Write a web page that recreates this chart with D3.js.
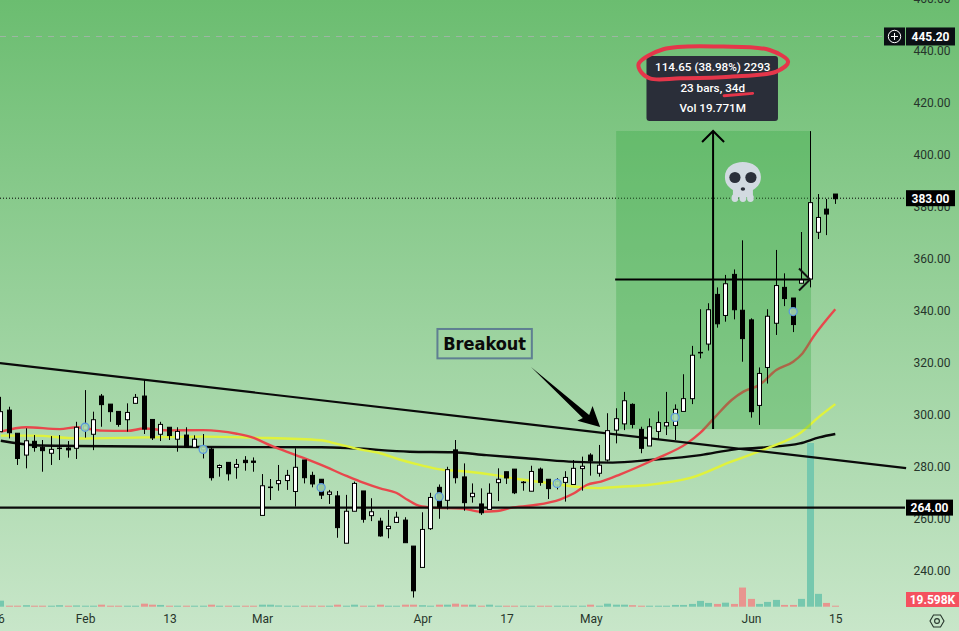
<!DOCTYPE html>
<html><head><meta charset="utf-8">
<script src="https://cdnjs.cloudflare.com/ajax/libs/d3/7.8.5/d3.min.js"></script>
<style>html,body{margin:0;padding:0;background:#99d29c;overflow:hidden}svg{display:block}</style>
</head><body><svg id="c" width="959" height="631"></svg>
<script>
const opens=[293.2,301.5,292.6,284.2,289.5,287.2,284.9,286.7,286.9,286.8,294.1,292.2,306.9,303.8,301,297.8,304.1,306.9,297.9,292.2,294.9,290.3,291.9,287.2,286.2,286.5,279.4,281.4,279.5,282.2,281.9,261,271.7,273.2,274.4,270.2,282.3,276.4,274.9,269.1,268.5,250.3,262.6,270.4,260.9,258.8,255.9,258.3,259.2,249.2,241,255.9,271.8,266.8,286.2,275.8,268.2,265.4,263.3,273.6,277.8,278.8,273.6,270.3,278.8,274.9,272.7,273.7,272.9,279,284.2,277.2,282.3,293.8,296.2,303.7,294.1,287.7,293.3,295.4,295.6,301,305.9,323.5,326.9,346,337.9,353.7,339.9,336.2,303.3,317.9,334.9,348.7,344.6,350.3,351.9,369.9,378.8,384.6];
const highs=[306.6,302.8,292.6,294.5,291.9,290,291.5,291.9,289.6,297,309.2,300.9,307.7,303.8,301,304.1,307.7,313.1,297.9,297,294.9,294.9,294.9,291.8,292.3,287.2,280.6,281.4,282.7,283.8,283.3,276.9,275,280.4,278.5,286.8,282.3,277.8,274.9,270.8,270.4,268.9,274,270.4,267.6,260.1,263.1,262.4,260.3,249.2,262.2,269.7,272.9,279.7,290,281,273.3,271.4,273.3,279.1,277.8,278.8,274.2,280.1,279.4,274.9,275.3,278,282.3,283.6,284.9,288.1,300.3,302.2,308.5,304.1,295.1,298.3,301,308.5,303.7,315.3,326.2,340.3,342.6,348.7,353.5,355.6,366.8,336.8,317.9,340.3,363.1,354.1,344.6,370,408.8,384.6,382.7,384.6];
const lows=[293.2,290.6,280.4,279.1,285.5,277.8,280.4,282.3,283.2,282.7,290.9,286.1,295.1,297,295.1,293.2,304.1,292.3,290,289.6,290,285.5,287.2,287.2,282.9,274.4,275.9,274.4,275.1,278.2,277.8,261,266.9,270.5,270.8,264.4,273.3,271.8,267.3,265.4,252.4,250.3,262.6,258.2,258.8,252.8,252.2,258.3,250.5,229.4,241,255.4,259.7,263.3,273.3,262.8,265.9,261.2,263.3,266.5,273.1,269.2,270.5,270.3,272.4,267.3,271,266.3,272.9,270.5,276.3,275.9,281.7,288.7,293.8,294.5,284.9,287.7,290.3,291.9,290,301,303.8,321.4,324.4,333.2,335.5,336.4,320.1,298.6,295.8,311.7,330.4,341.5,331.5,350.3,348.7,367.3,368.8,380.8];
const closes=[300.9,292.8,282.9,289.7,287.1,285.9,286.4,286.9,286.2,294.9,295.4,297.8,303.6,300.9,296,300.6,306.4,294.2,290.8,296,291.7,293.3,287.2,290.3,287.2,275.5,280.2,277,280.6,281.3,281.4,272.4,271.9,274.4,276.4,279.5,275.5,273.1,268.8,270,256.3,262.6,273.3,259.5,262.4,253.1,256.8,260.3,250.5,232,255.6,267.9,264.4,278.6,275.5,265.9,269.5,262,269.5,274.9,275.4,269.7,273.8,277.9,273.7,271.3,274,275.6,279.1,279.9,282,280.3,293.6,298.2,305.1,296,286.8,295.1,296.7,296.7,301.8,305.9,322.6,323.7,340.1,334.7,350.1,340.1,329,300.9,315.6,337.6,349.4,344.4,334.4,351.7,381.3,375.6,376.9,382.8];
const volumes=[.48,.08,.08,.12,.08,.08,.08,.12,.06,.1,.08,.08,.16,.06,.08,.06,.06,.24,.16,.14,.08,.08,.08,.08,.08,.16,.06,.06,.06,.06,.06,.16,.16,.1,.06,.06,.06,.08,.08,.08,.16,.08,.16,.08,.06,.16,.06,.06,.16,.16,.12,.08,.16,.16,.24,.16,.16,.08,.16,.08,.06,.06,.06,.06,.06,.06,.06,.06,.06,.06,.16,.08,.24,.16,.16,.12,.06,.06,.06,.06,.14,.14,.22,.46,.3,.22,.32,.22,1.52,.62,.22,.38,.54,.14,.14,.62,13,1.02,.3,.02];

const redIdx=[0,3,7,9,12,15,17,20,24,28,30,32,35,38,41,43,45,46.9,48.3,49.7,51.3,54.8,57,58.9,60.5,63.2,66.4,68,69.5,71.2,73.5,77.6,81.4,83,84.7,86.7,88.1,90,92,94,95.1,96.4,99];
const redVal=[293.2,294.9,294.2,294.9,293.6,293.5,294.4,293.7,293.8,292.4,290.8,287.9,284.2,280.4,276.2,273.6,271.4,269.7,266.9,264.6,264,263.6,262.4,262.7,263.9,264.9,267.2,269.5,272.7,274,276.8,282.6,288.7,292.8,298.7,305.4,308.6,311.2,316.9,320.1,323.3,329.7,340.3];
const yellowIdx=[0,4,9,17,24,30,38,39.9,42.6,45,47.2,49.2,51.9,55.5,58.6,61.5,65.4,68.2,71,73.5,77,81.8,86.5,90.9,94.8,97.1,99];
const yellowVal=[291.7,291.7,290.6,291,291.3,290.9,289.9,288.5,286.4,284.9,282.6,280.8,278.8,277.8,276.5,274.9,273.3,272,271.5,272,272.8,275.4,281.5,286.8,292.6,299,303.8];
const blackIdx=[0,4,9,24,38,41.8,48.5,53.6,57.6,62.3,67.4,72.6,77,83,87.1,90.9,94.8,97.1,99];
const blackVal=[289.7,288,287.7,287.3,287.2,286.8,285.5,285.3,284.2,283,281.7,281.3,282.3,284.2,286.4,287.2,288.7,291,292.3];

const markerIdx=[10,24,38,52,66,80,94];
const markerVal=[294.9,286.4,271.7,268.2,273.3,298.7,339.4];

const priceTicks=[460,440,420,400,380,360,340,320,300,280,260,240];
const timeIdx=[0,10,20,31,50,60,70,89,99];
const timeLabels=["6","Feb","13","Mar","Apr","17","May","Jun","15"];

const trendIdx=[-0.1,107.4], trendVal=[319.6,279.2];
const level=264, lastPrice=383, alertPrice=445.2, lastVolume="19.598K";
const rangeIdx=[73,96], rangeVal=[294.2,408.85];
const midIdx=84.5, midVal=351.7;
const statLines=["114.65 (38.98%) 2293","23 bars, 34d","Vol 19.771M"];
const breakoutText="Breakout";
const boxIdx=[51.8,63], boxVal=[332.7,321.4];
const fatArrowIdx=[62.9,69.8,70.2,71.1,68.4,69.05];
const fatArrowVal=[318.1,299.6,303.1,295,297.4,298.5];
const loopIdx=[75.7,78.6,85.7,91.2,93.4,92,86.5,80.6,77,75.8];
const loopVal=[434.9,440.3,441.3,440,435.5,431.7,429.7,429.1,429.1,432.3];
const underIdx=[85.8,89.2], underVal=[422.4,423.3];
const tipIdx=[76.6,92.2], tipVal=[437.7,412.7];

const W=959,H=631,plotR=905;
const x=d3.scaleLinear().domain([0,99]).range([0.8,835.3]);
const y=d3.scaleLinear().domain([400,240]).range([154,570]);
const v=d3.scaleLinear().domain([0,13]).range([606.7,443]);
const svg=d3.select("#c");
const font='Roboto, "Liberation Sans", sans-serif';
const UP="#76c8ae",DOWN="#e8958f";

const defs=svg.append("defs");
const g=defs.append("linearGradient").attr("id","bg").attr("x1",0).attr("x2",0).attr("y1",0).attr("y2",1);
g.append("stop").attr("offset","0").attr("stop-color","#6bbd70");
g.append("stop").attr("offset","1").attr("stop-color","#c8e6c9");
svg.append("rect").attr("width",W).attr("height",H).attr("fill","url(#bg)");

// reference price lines
svg.append("line").attr("x1",0).attr("x2",plotR).attr("y1",y(alertPrice)).attr("y2",y(alertPrice))
  .attr("stroke","#9fb5a4").attr("stroke-width",1).attr("stroke-dasharray","6 6");
svg.append("line").attr("x1",0).attr("x2",plotR).attr("y1",y(lastPrice)).attr("y2",y(lastPrice))
  .attr("stroke","#000").attr("stroke-width",1).attr("stroke-dasharray","1 2");

// volume
svg.append("g").selectAll("rect").data(volumes).join("rect")
  .attr("x",(d,i)=>Math.floor(x(i))-3).attr("width",7)
  .attr("y",d=>Math.min(v(d),v(0)-1)).attr("height",d=>Math.max(1,v(0)-v(d)))
  .attr("fill",(d,i)=>closes[i]>=opens[i]?UP:DOWN);

// moving averages
const maLine=d3.line().x(d=>x(d[0])).y(d=>y(d[1])).curve(d3.curveMonotoneX);
function ma(ix,vals,col){svg.append("path").attr("d",maLine(d3.zip(ix,vals))).attr("fill","none").attr("stroke",col).attr("stroke-width",2.4).attr("stroke-linejoin","round");}
ma(blackIdx,blackVal,"#0a0a0a");
ma(yellowIdx,yellowVal,"#dff23c");
ma(redIdx,redVal,"#e8474c");

// measured range box
svg.append("rect").attr("x",x(rangeIdx[0])).attr("width",x(rangeIdx[1])-x(rangeIdx[0])+1)
  .attr("y",y(rangeVal[1])).attr("height",y(rangeVal[0])-y(rangeVal[1]))
  .attr("fill","#35a63f").attr("fill-opacity",.33);

// trend and level lines
svg.append("line").attr("x1",x(trendIdx[0])).attr("x2",x(trendIdx[1])).attr("y1",y(trendVal[0])).attr("y2",y(trendVal[1]))
  .attr("stroke","#0a0a0a").attr("stroke-width",2.2);
svg.append("line").attr("x1",0).attr("x2",plotR).attr("y1",y(level)).attr("y2",y(level))
  .attr("stroke","#0a0a0a").attr("stroke-width",2.2);

// candles
const cg=svg.append("g").selectAll("g").data(opens).join("g");
const cx=i=>Math.floor(x(i))+.5;
cg.append("line").attr("x1",(d,i)=>cx(i)).attr("x2",(d,i)=>cx(i))
  .attr("y1",(d,i)=>y(highs[i])).attr("y2",(d,i)=>y(lows[i])).attr("stroke","#000").attr("stroke-width",1);
cg.append("rect").attr("x",(d,i)=>cx(i)-2).attr("width",4)
  .attr("y",(d,i)=>y(Math.max(opens[i],closes[i])))
  .attr("height",(d,i)=>Math.abs(y(opens[i])-y(closes[i])))
  .attr("fill",(d,i)=>closes[i]>=opens[i]?"#fff":"#000").attr("stroke","#000").attr("stroke-width",1);

// dividend style rings
svg.append("g").selectAll("circle").data(markerIdx).join("circle")
  .attr("cx",d=>x(d)).attr("cy",(d,i)=>y(markerVal[i])).attr("r",4)
  .attr("fill","#a5d8ad").attr("fill-opacity",.92).attr("stroke","#5a97dc").attr("stroke-width",1.3);

// measure arrows
const hy=y(midVal), mx=x(midIdx);
svg.append("line").attr("x1",mx).attr("x2",mx).attr("y1",y(rangeVal[0])).attr("y2",y(rangeVal[1]))
  .attr("stroke","#000").attr("stroke-width",2);
svg.append("path").attr("d",`M${mx-11},${y(rangeVal[1])+11}L${mx},${y(rangeVal[1])}L${mx+11},${y(rangeVal[1])+11}`)
  .attr("fill","none").attr("stroke","#000").attr("stroke-width",2);
const rx=x(rangeIdx[1]);
svg.append("line").attr("x1",x(rangeIdx[0])-1).attr("x2",rx).attr("y1",hy).attr("y2",hy).attr("stroke","#000").attr("stroke-width",2);
svg.append("path").attr("d",`M${rx-11},${hy-11}L${rx},${hy}L${rx-11},${hy+11}`).attr("fill","none").attr("stroke","#111").attr("stroke-width",2);

// skull (emoji glyph drawn as shapes)
const sk=svg.append("g").attr("transform",`translate(${x(88.04)},${y(390)})`);
sk.append("path").attr("d","M-18,-3C-18,-13 -9,-18 0,-18C9,-18 18,-13 18,-3C18,5 13,8 10,10L10,17L-10,17L-10,10C-13,8 -18,5 -18,-3Z").attr("fill","#d2dae1");
[-8,0,7.5].forEach(t=>sk.append("ellipse").attr("cx",t).attr("cy",18).attr("rx",3.4).attr("ry",4).attr("fill","#d2dae1"));
[-8,8].forEach(t=>sk.append("circle").attr("cx",t).attr("cy",-2.5).attr("r",5.6).attr("fill","#2b2f3a"));
sk.append("ellipse").attr("cx",0).attr("cy",9).attr("rx",2.2).attr("ry",1.8).attr("fill","#2b2f3a");

// Breakout callout
svg.append("rect").attr("x",x(boxIdx[0])).attr("y",y(boxVal[0])).attr("width",x(boxIdx[1])-x(boxIdx[0])).attr("height",y(boxVal[1])-y(boxVal[0]))
  .attr("fill","none").attr("stroke","#5f7f92").attr("stroke-width",2);
svg.append("text").attr("x",(x(boxIdx[0])+x(boxIdx[1]))/2).attr("y",(y(boxVal[0])+y(boxVal[1]))/2+6.5)
  .attr("text-anchor","middle").attr("font-family","'DejaVu Sans Condensed','DejaVu Sans',sans-serif").attr("font-weight","bold").attr("font-size",18).attr("fill","#0a0a0a").text(breakoutText);
svg.append("path").attr("d",d3.line().x(d=>x(d[0])).y(d=>y(d[1])).curve(d3.curveLinearClosed)(d3.zip(fatArrowIdx,fatArrowVal))).attr("fill","#000");

// stats tooltip
const tx0=x(tipIdx[0]),tx1=x(tipIdx[1]),ty0=y(tipVal[0]),ty1=y(tipVal[1]);
svg.append("rect").attr("x",tx0).attr("y",ty0).attr("width",tx1-tx0).attr("height",ty1-ty0).attr("rx",3).attr("fill","#2a2e39");
svg.append("g").selectAll("text").data(statLines).join("text")
  .attr("x",(tx0+tx1)/2+.5).attr("y",(d,i)=>ty0+15.5+i*20.5).attr("text-anchor","middle")
  .attr("font-family",font).attr("font-size",11.7).attr("font-weight",500).attr("fill","#fff").text(d=>d);
const freehand=d3.line().x(d=>x(d[0])).y(d=>y(d[1]));
svg.append("path").attr("d",freehand.curve(d3.curveCatmullRomClosed)(d3.zip(loopIdx,loopVal))).attr("fill","none").attr("stroke","#e5364a").attr("stroke-width",4);
svg.append("path").attr("d",freehand.curve(d3.curveLinear)(d3.zip(underIdx,underVal))).attr("fill","none").attr("stroke","#e5364a").attr("stroke-width",2.8).attr("stroke-linecap","round");

// axes
const ax=svg.append("g").attr("transform","translate(913.5,1)").call(d3.axisRight(y).tickValues(priceTicks).tickSize(0).tickPadding(0).tickFormat(d=>d3.format(".2f")(d)));
ax.select(".domain").remove();
ax.selectAll("text").attr("font-family",font).attr("font-size",12).attr("fill","#26352b");
const tAxis=d3.axisBottom(x).tickValues(timeIdx).tickSize(0).tickPadding(0).tickFormat((d,i)=>timeLabels[i]);
const bx=svg.append("g").attr("transform","translate(0,614.5)").call(tAxis);
bx.select(".domain").remove();
bx.selectAll("text").attr("font-family",font).attr("font-size",12).attr("fill","#26352b");

// price label chips
function chip(val,text,fill,x0,x1,h){const cy=y(val);
  svg.append("rect").attr("x",x0).attr("y",cy-h/2).attr("width",x1-x0).attr("height",h).attr("fill",fill);
  svg.append("text").attr("x",(x0+x1)/2).attr("y",cy+4.5).attr("text-anchor","middle").attr("font-family",font).attr("font-size",12).attr("font-weight",700).attr("fill","#fff").text(text);}
chip(alertPrice,"445.20","#0b0f14",906,955,18);
chip(lastPrice,"383.00","#000",906,955,16);
chip(level,"264.00","#000",906,953,16);
svg.append("rect").attr("x",884).attr("y",y(alertPrice)-9).attr("width",21).attr("height",18).attr("fill","#0b0f14");
svg.append("circle").attr("cx",894.5).attr("cy",y(alertPrice)).attr("r",6.2).attr("fill","none").attr("stroke","#fff").attr("stroke-width",1);
svg.append("path").attr("d",`M891,${y(alertPrice)}h7M894.5,${y(alertPrice)-3.5}v7`).attr("stroke","#fff").attr("stroke-width",1);
svg.append("rect").attr("x",906).attr("y",592).attr("width",53).attr("height",15).attr("fill","#f4515f");
svg.append("text").attr("x",932.5).attr("y",603.8).attr("text-anchor","middle").attr("font-family",font).attr("font-size",12).attr("font-weight",700).attr("fill","#fff").text(lastVolume);

// settings gear
const gx=937,gy=621;
svg.append("path").attr("d",d3.range(6).map(k=>{const a=Math.PI/3*k;return (k?"L":"M")+(gx+7*Math.cos(a))+","+(gy+7*Math.sin(a));}).join("")+"Z").attr("fill","none").attr("stroke","#26352b").attr("stroke-width",1.1);
svg.append("circle").attr("cx",gx).attr("cy",gy).attr("r",2.4).attr("fill","none").attr("stroke","#26352b").attr("stroke-width",1.1);
</script></body></html>
